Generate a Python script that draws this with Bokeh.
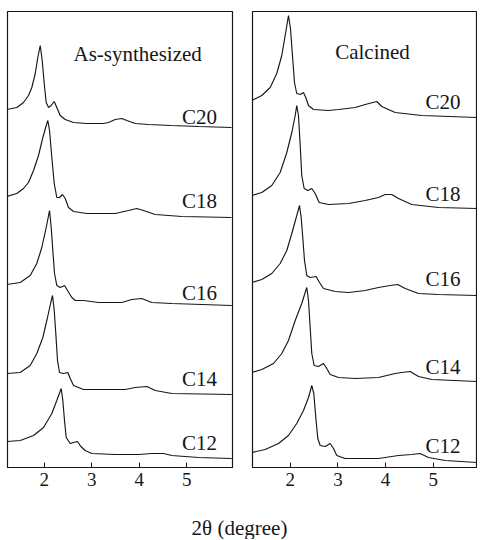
from bokeh.plotting import figure
from bokeh.models import Range1d, FixedTicker
from bokeh.layouts import row, column
from bokeh.core.properties import value
from bokeh.embed import file_html
from bokeh.resources import INLINE

# ---------------- data (2theta in degree, intensity in a.u., stacked) ----------------
samples = ["C20", "C18", "C16", "C14", "C12"]

# As-synthesized
as_c20_x = [1.213, 1.423, 1.564, 1.669, 1.739, 1.811, 1.865, 1.916, 1.958, 2.000, 2.042, 2.091, 2.147, 2.211,
            2.265, 2.337, 2.442, 2.617, 2.897, 3.248, 3.354, 3.495, 3.634, 3.739, 3.916, 4.196, 4.680, 5.248, 5.943]
as_c20_y = [358, 360, 365, 372, 380, 394, 410, 422, 407, 384, 365, 360, 362, 366,
            360, 352, 348, 345, 344, 344, 345, 348, 349, 347, 344, 343, 342, 341, 340]

as_c18_x = [1.213, 1.423, 1.564, 1.669, 1.775, 1.880, 1.971, 2.042, 2.076, 2.112, 2.160, 2.211, 2.265, 2.322,
            2.385, 2.442, 2.512, 2.617, 2.897, 3.248, 3.495, 3.775, 3.949, 4.091, 4.337, 4.897, 5.943]
as_c18_y = [271, 274, 279, 285, 297, 312, 330, 342, 347, 337, 310, 284, 270, 270,
            273, 269, 260, 256, 254, 254, 254, 257, 259, 257, 253, 251, 250]

as_c16_x = [1.213, 1.495, 1.705, 1.844, 1.949, 2.042, 2.112, 2.147, 2.181, 2.217, 2.265, 2.337, 2.427, 2.581,
            2.653, 2.827, 3.143, 3.634, 3.844, 4.055, 4.265, 4.686, 5.949]
as_c16_y = [183, 185, 192, 204, 220, 240, 257, 240, 217, 194, 182, 180, 182, 170,
            167, 167, 165, 165, 168, 169, 165, 164, 162]

as_c14_x = [1.213, 1.495, 1.705, 1.844, 1.971, 2.069, 2.139, 2.175, 2.211, 2.244, 2.280, 2.322, 2.406, 2.497,
            2.547, 2.617, 2.827, 3.143, 3.705, 3.916, 4.160, 4.337, 4.686, 5.949]
as_c14_y = [94, 95, 102, 114, 130, 150, 165, 172, 157, 134, 107, 95, 94, 95,
            89, 82, 78, 78, 78, 80, 81, 77, 74, 73]

as_c12_x = [1.213, 1.495, 1.775, 1.985, 2.160, 2.265, 2.358, 2.392, 2.427, 2.463, 2.547, 2.617, 2.701, 2.771,
            2.863, 3.002, 3.495, 3.985, 4.265, 4.512, 4.686, 5.248, 5.949]
as_c12_y = [26, 27, 32, 40, 54, 67, 79, 67, 47, 30, 24, 25, 26, 21,
            17, 14, 13, 13, 14, 14, 12, 10, 9]

# Calcined
ca_c20_x = [1.195, 1.405, 1.581, 1.719, 1.824, 1.895, 1.964, 2.006, 2.048, 2.090, 2.138, 2.210, 2.279, 2.327,
            2.384, 2.488, 2.803, 3.013, 3.363, 3.572, 3.816, 3.920, 4.201, 4.759, 5.927]
ca_c20_y = [367, 372, 380, 394, 412, 432, 452, 439, 412, 385, 374, 373, 375, 370,
            362, 358, 357, 358, 360, 363, 366, 361, 355, 352, 350]

ca_c18_x = [1.195, 1.405, 1.614, 1.790, 1.929, 2.034, 2.105, 2.138, 2.174, 2.210, 2.243, 2.293, 2.369, 2.453,
            2.524, 2.608, 2.803, 3.222, 3.572, 3.851, 3.992, 4.130, 4.270, 4.549, 5.109, 5.927]
ca_c18_y = [272, 275, 282, 295, 315, 335, 352, 362, 352, 322, 292, 279, 277, 279,
            274, 265, 263, 264, 267, 270, 273, 273, 269, 263, 260, 259]

ca_c16_x = [1.195, 1.405, 1.614, 1.790, 1.929, 2.034, 2.138, 2.195, 2.231, 2.264, 2.300, 2.348, 2.419, 2.545,
            2.614, 2.698, 2.943, 3.222, 3.572, 3.851, 4.096, 4.256, 4.411, 4.690, 5.109, 5.927]
ca_c16_y = [185, 188, 194, 204, 217, 234, 252, 262, 250, 230, 207, 192, 190, 191,
            185, 179, 176, 175, 177, 180, 182, 183, 179, 174, 173, 172]

ca_c14_x = [1.195, 1.405, 1.650, 1.824, 1.964, 2.105, 2.243, 2.314, 2.348, 2.384, 2.419, 2.453, 2.503, 2.593,
            2.698, 2.767, 2.839, 3.013, 3.363, 3.851, 4.201, 4.340, 4.516, 4.690, 4.969, 5.927]
ca_c14_y = [95, 98, 104, 114, 127, 147, 164, 175, 180, 167, 140, 114, 102, 101,
            104, 99, 93, 90, 89, 90, 94, 95, 96, 91, 88, 86]

ca_c12_x = [1.195, 1.476, 1.755, 1.964, 2.138, 2.279, 2.384, 2.453, 2.495, 2.537, 2.579, 2.629, 2.734, 2.839,
            2.908, 2.977, 3.153, 3.363, 3.851, 4.270, 4.549, 4.725, 4.900, 5.250, 5.927]
ca_c12_y = [15, 18, 24, 32, 44, 57, 70, 82, 74, 50, 29, 22, 21, 24,
            19, 12, 9, 9, 9, 12, 13, 14, 10, 7, 5]

x_ticks = [2, 3, 4, 5]
x_title = "2θ (degree)"
panel_titles = ["As-synthesized", "Calcined"]

as_series = [(as_c20_x, as_c20_y), (as_c18_x, as_c18_y), (as_c16_x, as_c16_y),
             (as_c14_x, as_c14_y), (as_c12_x, as_c12_y)]
ca_series = [(ca_c20_x, ca_c20_y), (ca_c18_x, ca_c18_y), (ca_c16_x, ca_c16_y),
             (ca_c14_x, ca_c14_y), (ca_c12_x, ca_c12_y)]

# ---------------- layout / style ----------------
FONT = "Liberation Serif"
INK = "#161616"
as_label_pos = (5.64, [351, 267, 175, 89, 25])
ca_label_pos = (5.57, [366, 274, 189, 101, 22])
as_title_pos = (2.617, 414)
ca_title_pos = (2.943, 416)


def make_panel(x_start, x_end, width, border_left, border_right, series, label_pos, title, title_pos):
    p = figure(width=width, height=497,
               x_range=Range1d(x_start, x_end), y_range=Range1d(0, 456),
               output_backend="svg", toolbar_location=None,
               min_border_left=border_left, min_border_right=border_right,
               min_border_top=11, min_border_bottom=30)
    p.grid.visible = False
    p.yaxis.visible = False
    p.background_fill_color = "white"
    p.border_fill_color = "white"
    p.outline_line_color = INK
    p.outline_line_width = 1.2
    ax = p.xaxis[0]
    ax.ticker = FixedTicker(ticks=x_ticks, minor_ticks=[])
    ax.major_tick_in = 5
    ax.major_tick_out = 0
    ax.minor_tick_in = 0
    ax.minor_tick_out = 0
    ax.major_tick_line_color = INK
    ax.axis_line_color = INK
    ax.axis_line_width = 1.2
    ax.major_label_text_font = FONT
    ax.major_label_text_font_size = "19px"
    ax.major_label_text_color = INK
    ax.major_label_standoff = 5

    for xs, ys in series:
        p.line(xs, ys, line_color=INK, line_width=1.15)

    lx, lys = label_pos
    p.text(x=[lx] * len(samples), y=lys, text=samples,
           text_font=value(FONT), text_font_size="21px", text_color=INK,
           text_align="right", text_baseline="middle")
    p.text(x=[title_pos[0]], y=[title_pos[1]], text=[title],
           text_font=value(FONT), text_font_size="21px", text_color=INK,
           text_align="left", text_baseline="middle")
    return p


p1 = make_panel(1.227, 5.964, 251, 7, 19, as_series, as_label_pos, panel_titles[0], as_title_pos)
p2 = make_panel(1.210, 5.927, 226, 1, 0, ca_series, ca_label_pos, panel_titles[1], ca_title_pos)

# shared x-axis title drawn as SVG text in a strip below the panels
pt = figure(width=477, height=42, x_range=Range1d(0, 477), y_range=Range1d(0, 42),
            output_backend="svg", toolbar_location=None,
            min_border_left=0, min_border_right=0, min_border_top=0, min_border_bottom=0)
pt.axis.visible = False
pt.grid.visible = False
pt.outline_line_color = None
pt.background_fill_color = "white"
pt.border_fill_color = "white"
pt.text(x=[239], y=[12], text=[x_title], text_font=value(FONT), text_font_size="21px",
        text_color=INK, text_align="center", text_baseline="middle")

layout = column(row(p1, p2), pt)

open("out.html", "w").write(file_html(layout, INLINE))
